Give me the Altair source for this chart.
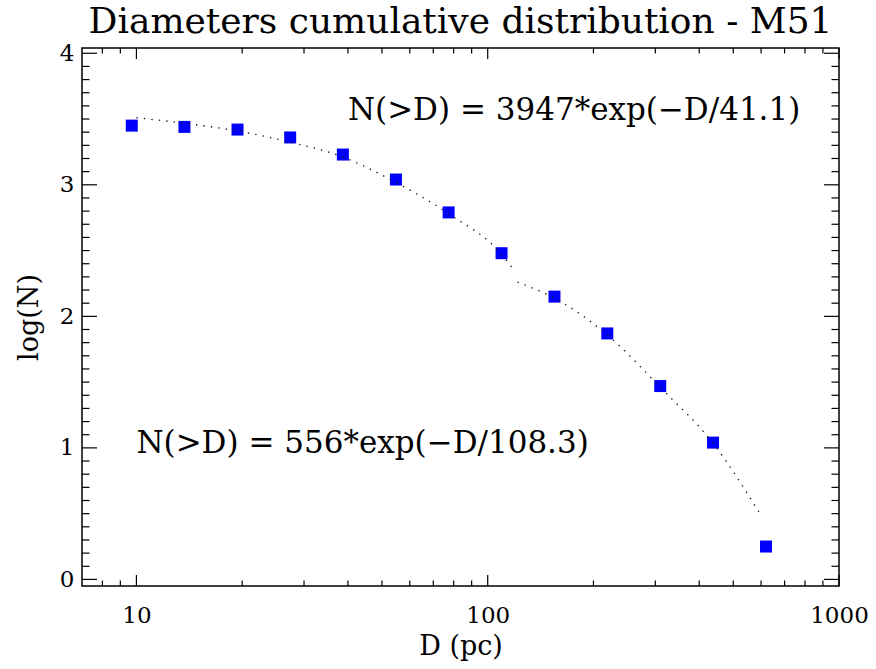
import altair as alt
import pandas as pd

# ---- data ----
D_pc = [9.7, 13.7, 19.4, 27.4, 38.7, 54.8, 77.4, 109.5, 154.9, 219.0, 309.8, 438.0, 619.6]
log_N = [3.45, 3.44, 3.42, 3.36, 3.23, 3.04, 2.79, 2.48, 2.15, 1.87, 1.47, 1.04, 0.25]

fit1_D = [10.0, 13.5, 19.3, 26.8, 38.8, 54.6, 77.4, 109.6, 118.9]
fit1_logN = [3.51, 3.47, 3.41, 3.33, 3.21, 3.02, 2.78, 2.47, 2.35]
fit2_D = [121.6, 154.4, 218.8, 310.0, 439.4, 595.6]
fit2_logN = [2.26, 2.14, 1.86, 1.46, 1.03, 0.50]

notes = ["N(>D) = 3947*exp(\u2212D/41.1)", "N(>D) = 556*exp(\u2212D/108.3)"]
notes_D = [40.0, 10.0]
notes_logN = [3.49, 0.96]

title_text = "Diameters cumulative distribution - M51"

x_major = [10, 100, 1000]
x_minor = [8, 9, 20, 30, 40, 50, 60, 70, 80, 90, 200, 300, 400, 500, 600, 700, 800, 900]
y_major = [0, 1, 2, 3, 4]
y_minor = [round(i * 0.1, 1) for i in range(1, 40) if i % 10 != 0]

W, H = 757, 538
FONT = "DejaVu Serif"

xscale = alt.Scale(type="log", domain=[7, 1000], nice=False)
yscale = alt.Scale(domain=[-0.05, 4.04], nice=False, zero=False)

xaxis = alt.Axis(
    values=x_major, format="d", title="D (pc)", ticks=False, domain=False, grid=False,
    labelFont=FONT, labelFontSize=23, labelColor="black", labelPadding=18,
    labelFlush=False, labelOverlap=False,
    titleFont=FONT, titleFontSize=27, titleFontWeight="normal", titleColor="black",
    titlePadding=6)
yaxis = alt.Axis(
    values=y_major, format="d", title="log(N)", ticks=False, domain=False, grid=False,
    labelFont=FONT, labelFontSize=23, labelColor="black", labelPadding=8,
    labelFlush=False, labelOverlap=False,
    titleFont=FONT, titleFontSize=27, titleFontWeight="normal", titleColor="black",
    titlePadding=16)

pts = pd.DataFrame({"D": D_pc, "logN": log_N})
fit = pd.DataFrame({
    "D": fit1_D + fit2_D,
    "logN": fit1_logN + fit2_logN,
    "seg": ["a"] * len(fit1_D) + ["b"] * len(fit2_D),
})
ann = pd.DataFrame({"D": notes_D, "logN": notes_logN, "t": notes})
xmaj = pd.DataFrame({"D": x_major})
xmin = pd.DataFrame({"D": x_minor})
ymaj = pd.DataFrame({"logN": y_major})
ymin = pd.DataFrame({"logN": y_minor})

X = alt.X("D:Q", scale=xscale, axis=xaxis)
Y = alt.Y("logN:Q", scale=yscale, axis=yaxis)

points = alt.Chart(pts).mark_square(size=144, color="#0000ff", opacity=1).encode(x=X, y=Y)

curve = alt.Chart(fit).mark_line(
    color="#222222", strokeWidth=1.4, strokeDash=[1.4, 6.1], interpolate="monotone"
).encode(x=X, y=Y, detail="seg:N")

text = alt.Chart(ann).mark_text(
    font=FONT, fontSize=31, align="left", baseline="alphabetic", color="black"
).encode(x=X, y=Y, text="t:N")

title = alt.Chart(pd.DataFrame({"t": [title_text]})).mark_text(
    font=FONT, fontSize=36, align="center", baseline="alphabetic", color="black"
).encode(x=alt.value(W / 2), y=alt.value(-15), text="t:N")

def xticks(df, length):
    bottom = alt.Chart(df).mark_rule(color="black", strokeWidth=1.2).encode(
        x=X, y=alt.value(H), y2=alt.value(H - length))
    top = alt.Chart(df).mark_rule(color="black", strokeWidth=1.2).encode(
        x=X, y=alt.value(0), y2=alt.value(length))
    return [bottom, top]

def yticks(df, length):
    left = alt.Chart(df).mark_rule(color="black", strokeWidth=1.2).encode(
        y=Y, x=alt.value(0), x2=alt.value(length))
    right = alt.Chart(df).mark_rule(color="black", strokeWidth=1.2).encode(
        y=Y, x=alt.value(W), x2=alt.value(W - length))
    return [left, right]

layers = ([points] + xticks(xmaj, 11) + xticks(xmin, 5.5) + yticks(ymaj, 15)
          + yticks(ymin, 7.5) + [curve, text, title])

chart = alt.layer(*layers).properties(
    width=W, height=H,
    autosize="none",
    padding={"left": 82, "top": 48, "right": 876 - 82 - W, "bottom": 669 - 48 - H},
    background="white",
).configure_view(stroke="black", strokeWidth=1.5)

chart.save("out.html", embed_options={"renderer": "svg", "actions": False})
